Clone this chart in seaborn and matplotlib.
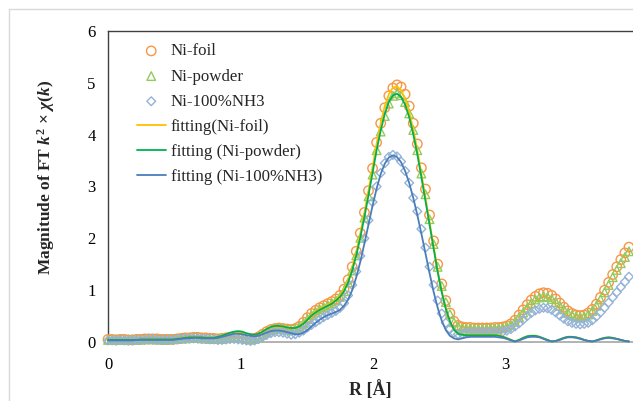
import numpy as np
import pandas as pd
import matplotlib
matplotlib.use("Agg")
import matplotlib.pyplot as plt
import seaborn as sns
from matplotlib.lines import Line2D

# ---------------- data ----------------
R_STEP = 0.0307  # sampling step of the FT grid (Å)

ni_foil = [
    0.05, 0.05, 0.04, 0.05, 0.05, 0.04, 0.04, 0.05, 0.05, 0.06, 0.06,
    0.06, 0.06, 0.05, 0.05, 0.05, 0.05, 0.06, 0.07, 0.08, 0.08,
    0.09, 0.09, 0.08, 0.08, 0.07, 0.07, 0.06, 0.07, 0.08, 0.09,
    0.10, 0.10, 0.09, 0.07, 0.06, 0.07,
    0.10, 0.15, 0.20, 0.24, 0.26, 0.27, 0.26, 0.25, 0.24, 0.26, 0.30,
    0.38, 0.47, 0.55, 0.61, 0.66, 0.70, 0.74, 0.78, 0.83, 0.90,
    1.02, 1.20, 1.45, 1.75, 2.10, 2.50, 2.92, 3.35, 3.85, 4.22, 4.52, 4.75, 4.90, 4.96,
    4.92, 4.78, 4.55, 4.22, 3.82, 3.36, 2.95, 2.45, 1.95, 1.50, 1.12, 0.80, 0.56, 0.40, 0.32, 0.29,
    0.28, 0.28, 0.27, 0.27, 0.27, 0.27, 0.27, 0.28, 0.28, 0.29,
    0.31, 0.35, 0.42, 0.52, 0.62, 0.72, 0.81, 0.88, 0.93, 0.95,
    0.94, 0.90, 0.83, 0.75, 0.67, 0.60, 0.55, 0.52, 0.51, 0.52,
    0.56, 0.63, 0.73, 0.86, 1.00, 1.15, 1.30, 1.45, 1.59, 1.72, 1.83,
]

ni_powder = [
    0.04, 0.04, 0.05, 0.04, 0.04, 0.05, 0.05, 0.04, 0.05, 0.05, 0.06,
    0.05, 0.05, 0.05, 0.04, 0.05, 0.06, 0.06, 0.07, 0.07, 0.08,
    0.08, 0.08, 0.07, 0.07, 0.06, 0.06, 0.06, 0.06, 0.07, 0.08,
    0.09, 0.09, 0.08, 0.06, 0.05, 0.06,
    0.09, 0.14, 0.19, 0.23, 0.25, 0.26, 0.25, 0.24, 0.23, 0.25, 0.29,
    0.36, 0.44, 0.52, 0.58, 0.63, 0.67, 0.71, 0.75, 0.80, 0.87,
    0.98, 1.15, 1.38, 1.67, 2.01, 2.40, 2.81, 3.23, 3.70, 4.06, 4.36, 4.60, 4.75, 4.80,
    4.76, 4.63, 4.41, 4.09, 3.70, 3.25, 2.85, 2.37, 1.89, 1.45, 1.08, 0.77, 0.54, 0.38, 0.30, 0.27,
    0.26, 0.26, 0.25, 0.25, 0.25, 0.25, 0.26, 0.26, 0.26, 0.27,
    0.29, 0.33, 0.39, 0.48, 0.57, 0.66, 0.75, 0.82, 0.86, 0.88,
    0.87, 0.83, 0.77, 0.70, 0.63, 0.56, 0.52, 0.49, 0.48, 0.49,
    0.53, 0.60, 0.70, 0.82, 0.96, 1.10, 1.25, 1.39, 1.52, 1.64, 1.75,
]

ni_nh3 = [
    0.03, 0.03, 0.03, 0.04, 0.03, 0.03, 0.03, 0.04, 0.04, 0.04, 0.05,
    0.05, 0.04, 0.04, 0.04, 0.04, 0.04, 0.05, 0.06, 0.06, 0.07,
    0.07, 0.07, 0.06, 0.06, 0.05, 0.05, 0.04, 0.04, 0.05, 0.06,
    0.06, 0.05, 0.04, 0.03, 0.02, 0.03,
    0.06, 0.10, 0.14, 0.17, 0.19, 0.19, 0.18, 0.16, 0.14, 0.15, 0.18,
    0.22, 0.28, 0.33, 0.38, 0.43, 0.48, 0.52, 0.56, 0.60, 0.66,
    0.75, 0.90, 1.10, 1.36, 1.66, 2.00, 2.35, 2.70, 3.00, 3.26, 3.45, 3.57, 3.61, 3.58,
    3.48, 3.30, 3.07, 2.78, 2.52, 2.18, 1.82, 1.45, 1.10, 0.80, 0.55, 0.37, 0.25, 0.18, 0.15, 0.16,
    0.18, 0.19, 0.19, 0.19, 0.19, 0.19, 0.19, 0.19, 0.20, 0.20,
    0.22, 0.25, 0.30, 0.36, 0.43, 0.50, 0.56, 0.61, 0.64, 0.66,
    0.65, 0.62, 0.57, 0.51, 0.45, 0.40, 0.37, 0.35, 0.34, 0.35,
    0.37, 0.42, 0.49, 0.57, 0.66, 0.76, 0.86, 0.96, 1.06, 1.16, 1.26,
]

fit_foil = [
    0.04, 0.04, 0.04, 0.04, 0.04, 0.04, 0.04, 0.04, 0.05, 0.05, 0.05,
    0.05, 0.05, 0.05, 0.05, 0.05, 0.05, 0.06, 0.07, 0.08, 0.09,
    0.09, 0.09, 0.09, 0.08, 0.08, 0.08, 0.09, 0.11, 0.14, 0.17,
    0.19, 0.19, 0.18, 0.16, 0.14, 0.13,
    0.15, 0.19, 0.24, 0.28, 0.30, 0.30, 0.29, 0.28, 0.27, 0.27, 0.30,
    0.36, 0.44, 0.52, 0.59, 0.64, 0.68, 0.72, 0.76, 0.82, 0.90,
    1.02, 1.20, 1.44, 1.74, 2.10, 2.50, 2.92, 3.37, 3.83, 4.22, 4.55, 4.78, 4.91, 4.93,
    4.86, 4.70, 4.45, 4.11, 3.70, 3.25, 2.78, 2.30, 1.83, 1.38, 0.98, 0.65, 0.40, 0.24, 0.16, 0.14,
    0.14, 0.14, 0.14, 0.14, 0.14, 0.14, 0.14, 0.14, 0.13, 0.11,
    0.08, 0.04, 0.01, 0.04, 0.08, 0.11, 0.12, 0.12, 0.10, 0.07,
    0.04, 0.01, 0.02, 0.05, 0.08, 0.10, 0.10, 0.09, 0.07, 0.04,
    0.02, 0.01, 0.03, 0.06, 0.08, 0.09, 0.08, 0.06, 0.04, 0.02, 0.01,
]

fit_powder = [
    0.04, 0.04, 0.04, 0.04, 0.04, 0.04, 0.04, 0.04, 0.05, 0.05, 0.05,
    0.05, 0.05, 0.05, 0.05, 0.05, 0.05, 0.06, 0.07, 0.08, 0.09,
    0.09, 0.09, 0.09, 0.08, 0.08, 0.08, 0.10, 0.12, 0.15, 0.18,
    0.20, 0.21, 0.20, 0.17, 0.15, 0.14,
    0.16, 0.20, 0.25, 0.29, 0.31, 0.31, 0.30, 0.28, 0.27, 0.27, 0.30,
    0.35, 0.43, 0.51, 0.57, 0.62, 0.66, 0.70, 0.74, 0.80, 0.87,
    0.98, 1.15, 1.38, 1.67, 2.02, 2.41, 2.83, 3.27, 3.70, 4.08, 4.40, 4.63, 4.76, 4.79,
    4.73, 4.58, 4.34, 4.01, 3.62, 3.18, 2.72, 2.25, 1.79, 1.35, 0.96, 0.64, 0.40, 0.24, 0.16, 0.14,
    0.13, 0.13, 0.13, 0.13, 0.13, 0.13, 0.13, 0.13, 0.12, 0.10,
    0.07, 0.04, 0.01, 0.04, 0.08, 0.11, 0.12, 0.12, 0.10, 0.07,
    0.04, 0.01, 0.02, 0.05, 0.08, 0.10, 0.10, 0.09, 0.07, 0.04,
    0.02, 0.01, 0.03, 0.06, 0.08, 0.09, 0.08, 0.06, 0.04, 0.02, 0.01,
]

fit_nh3 = [
    0.03, 0.03, 0.03, 0.03, 0.03, 0.03, 0.03, 0.04, 0.04, 0.04, 0.04,
    0.04, 0.04, 0.04, 0.04, 0.04, 0.04, 0.05, 0.06, 0.07, 0.07,
    0.08, 0.08, 0.07, 0.07, 0.07, 0.07, 0.08, 0.10, 0.12, 0.14,
    0.16, 0.16, 0.15, 0.13, 0.12, 0.11,
    0.12, 0.15, 0.18, 0.21, 0.22, 0.22, 0.21, 0.19, 0.17, 0.15, 0.15,
    0.18, 0.23, 0.30, 0.37, 0.43, 0.48, 0.52, 0.55, 0.58, 0.62,
    0.70, 0.82, 1.00, 1.25, 1.55, 1.90, 2.27, 2.63, 2.96, 3.24, 3.44, 3.56, 3.60, 3.57,
    3.47, 3.30, 3.07, 2.78, 2.45, 2.09, 1.71, 1.33, 0.97, 0.66, 0.41, 0.23, 0.12, 0.07, 0.05, 0.07,
    0.09, 0.10, 0.10, 0.10, 0.10, 0.10, 0.10, 0.10, 0.09, 0.08,
    0.06, 0.03, 0.01, 0.03, 0.06, 0.09, 0.10, 0.10, 0.09, 0.06,
    0.03, 0.01, 0.02, 0.04, 0.07, 0.09, 0.09, 0.08, 0.06, 0.04,
    0.02, 0.01, 0.03, 0.05, 0.07, 0.08, 0.07, 0.06, 0.04, 0.02, 0.01,
]

data_labels = ["Ni-foil", "Ni-powder", "Ni-100%NH3"]
fit_labels = ["fitting(Ni-foil)", "fitting (Ni-powder)", "fitting (Ni-100%NH3)"]
x_ticks = [0, 1, 2, 3]
y_ticks = [0, 1, 2, 3, 4, 5, 6]

# ---------------- style ----------------
sns.set_theme(style="white")
plt.rcParams["font.family"] = ["Liberation Serif", "DejaVu Serif"]
plt.rcParams["mathtext.fontset"] = "custom"
plt.rcParams["mathtext.rm"] = "Liberation Serif:bold"
plt.rcParams["mathtext.it"] = "Liberation Serif:italic:bold"
plt.rcParams["mathtext.bf"] = "Liberation Serif:bold"

n = len(ni_foil)
R = np.arange(n) * R_STEP
df = pd.DataFrame({"R": R, "foil": ni_foil, "powder": ni_powder, "nh3": ni_nh3,
                   "fit_foil": fit_foil, "fit_powder": fit_powder, "fit_nh3": fit_nh3})

fig = plt.figure(figsize=(6.33, 4.01), dpi=100)
ax = fig.add_axes([108 / 633, 1 - 342 / 401, 1 - 108 / 633, (342 - 31) / 401])

mk_colors = ["#F79646", "#92CB5E", "#95B3D7"]
markers = ["o", "^", "D"]
sizes = [46, 38, 20]
for col, lab, c, m, s in zip(["foil", "powder", "nh3"], data_labels, mk_colors, markers, sizes):
    sns.scatterplot(data=df, x="R", y=col, ax=ax, marker=m, s=s, color=c,
                    edgecolor=c, linewidth=1.0, label=lab, clip_on=False, zorder=3)
    ax.collections[-1].set_facecolor("none")

line_colors = ["#FFC000", "#00B050", "#4A7EBB"]
for col, lab, c in zip(["fit_foil", "fit_powder", "fit_nh3"], fit_labels, line_colors):
    sns.lineplot(data=df, x="R", y=col, ax=ax, color=c, linewidth=1.3, label=lab,
                 clip_on=False, zorder=4)

ax.set_xlim(0, 3.96)
ax.set_ylim(0, 6)
ax.set_xticks(x_ticks)
ax.set_yticks(y_ticks)
ax.tick_params(axis="both", labelsize=12, colors="#000000", length=5, width=0.8,
               direction="out", pad=4)
ax.tick_params(axis="x", color="#595959", pad=6)
ax.tick_params(axis="y", color="#404040")
for side in ["left", "top"]:
    ax.spines[side].set_color("#404040")
    ax.spines[side].set_linewidth(1.0)
ax.spines["bottom"].set_color("#A6A6A6")
ax.spines["bottom"].set_linewidth(1.2)
ax.spines["right"].set_visible(False)

ax.set_xlabel("R [Å]", fontsize=13, fontweight="bold", labelpad=5)
ax.set_ylabel(r"Magnitude of FT $k^{2}$ $\mathbf{\times}$ $\chi(k)$",
              fontsize=12.5, fontweight="bold")
ax.yaxis.set_label_coords(-0.097, 0.53)

handles, labels = ax.get_legend_handles_labels()
leg = ax.legend(handles, labels, loc="upper left", bbox_to_anchor=(0.042, 0.982),
                frameon=False, fontsize=12.2, handlelength=1.7, handletextpad=0.3,
                labelspacing=0.54, borderaxespad=0.0)

# outer chart border
fig.add_artist(Line2D([9 / 633, 9 / 633], [0, 1 - 9 / 401], color="#D9D9D9", lw=1.0,
                      transform=fig.transFigure))
fig.add_artist(Line2D([9 / 633, 1], [1 - 9 / 401, 1 - 9 / 401], color="#D9D9D9", lw=1.0,
                      transform=fig.transFigure))

fig.savefig("out.png", dpi=100, facecolor="white")
